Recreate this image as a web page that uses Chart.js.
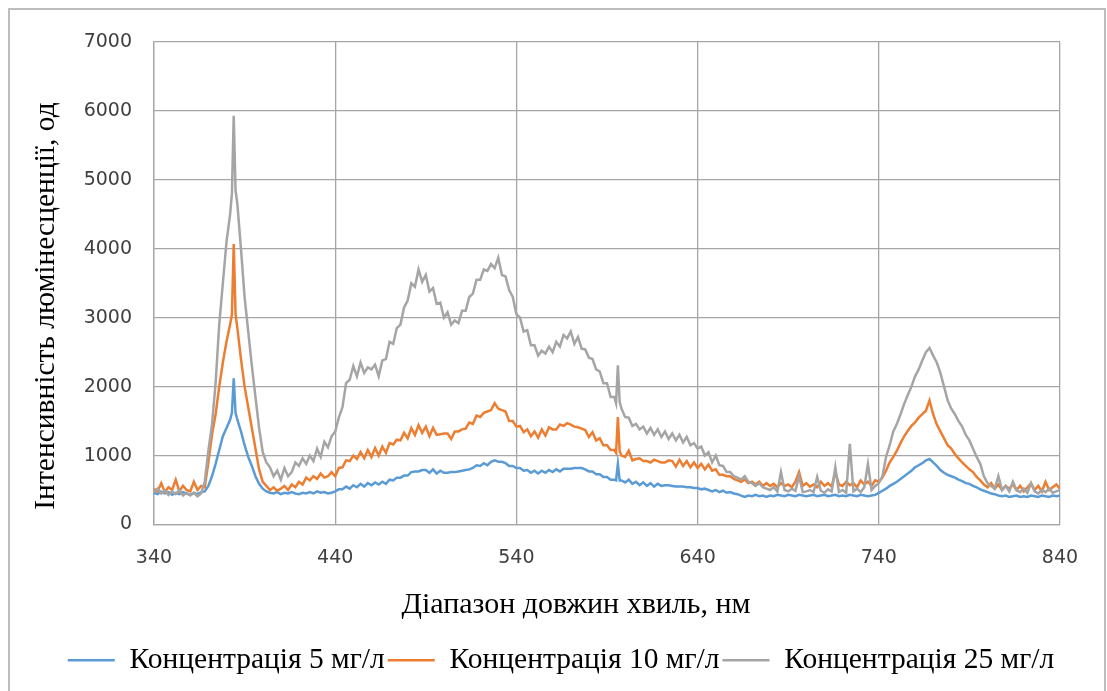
<!DOCTYPE html>
<html lang="uk">
<head>
<meta charset="utf-8">
<title>Спектри люмінесценції</title>
<script src="https://cdn.jsdelivr.net/npm/chart.js@4.4.1/dist/chart.umd.min.js"></script>
<style>
  html, body { margin: 0; padding: 0; background: #ffffff; }
  #wrap { position: relative; width: 1107px; height: 691px; }
  canvas { display: block; }
</style>
</head>
<body>
<div id="wrap"><canvas id="spectra" width="1107" height="691"></canvas></div>
<script>
// Wavelength grid, nm (finer around the narrow lines at 384 and 596 nm)
const wavelengths = [
  340,342,344,346,348,350,352,354,356,358,
  360,362,364,366,368,370,372,374,376,378,
  380,382,383,384,385,386,388,390,392,394,396,398,
  400,402,404,406,408,410,412,414,416,418,
  420,422,424,426,428,430,432,434,436,438,
  440,442,444,446,448,450,452,454,456,458,
  460,462,464,466,468,470,472,474,476,478,
  480,482,484,486,488,490,492,494,496,498,
  500,502,504,506,508,510,512,514,516,518,
  520,522,524,526,528,530,532,534,536,538,
  540,542,544,546,548,550,552,554,556,558,
  560,562,564,566,568,570,572,574,576,578,
  580,582,584,586,588,590,592,594,595,596,597,598,
  600,602,604,606,608,610,612,614,616,618,
  620,622,624,626,628,630,632,634,636,638,
  640,642,644,646,648,650,652,654,656,658,
  660,662,664,666,668,670,672,674,676,678,
  680,682,684,686,688,690,692,694,696,698,
  700,702,704,706,708,710,712,714,716,718,
  720,722,724,726,728,730,732,734,736,738,
  740,742,744,746,748,750,752,754,756,758,
  760,762,764,766,768,770,772,774,776,778,
  780,782,784,786,788,790,792,794,796,798,
  800,802,804,806,808,810,812,814,816,818,
  820,822,824,826,828,830,832,834,836,838,
  840
];

// Luminescence intensity, arb. units — 5 mg/l
const conc5 = [
  460,440,480,450,470,430,460,440,470,450,
  430,460,440,470,480,560,700,880,1080,1280,
  1400,1520,1620,2120,1620,1520,1350,1150,980,850,700,590,
  520,480,460,450,470,440,460,450,470,450,
  440,460,450,470,450,480,460,470,450,460,
  480,510,510,550,520,570,540,590,550,600,
  570,610,580,620,590,650,640,680,680,710,
  710,760,770,770,790,790,750,800,740,780,
  750,750,760,760,770,780,790,800,820,860,
  850,890,860,910,930,910,910,890,850,850,
  820,820,780,790,750,780,740,780,750,790,
  760,800,770,810,810,810,820,820,820,800,
  770,770,730,730,690,690,650,650,640,880,640,640,
  610,650,590,620,570,610,560,600,550,590,
  560,570,570,560,550,550,550,540,540,530,
  530,510,520,500,480,500,470,490,460,470,
  450,440,420,400,420,410,430,410,420,400,
  420,410,430,420,410,430,420,410,430,420,
  410,420,430,410,420,430,410,420,430,410,
  420,410,430,420,410,430,420,410,420,430,
  460,490,520,560,590,620,660,700,740,780,
  830,860,890,930,950,900,850,790,750,720,
  700,680,650,630,600,590,560,540,510,490,
  470,450,440,420,410,420,400,410,420,400,
  410,400,420,410,400,420,410,400,420,410,
  420
];

// Luminescence intensity, arb. units — 10 mg/l
const conc10 = [
  520,480,600,470,540,500,650,480,560,500,
  480,620,500,560,540,900,1300,1600,2000,2350,
  2650,2900,3050,4070,3050,2850,2400,2000,1700,1400,1100,800,
  620,560,500,540,490,520,560,500,580,540,
  620,580,680,640,700,660,740,680,700,760,
  700,820,830,930,920,1000,950,1050,960,1080,
  980,1110,1000,1130,1040,1180,1160,1230,1220,1330,
  1250,1400,1300,1440,1330,1420,1280,1400,1300,1310,
  1320,1320,1240,1350,1350,1380,1390,1480,1460,1580,
  1560,1620,1640,1660,1760,1680,1660,1640,1500,1500,
  1420,1430,1340,1380,1280,1350,1260,1380,1290,1410,
  1380,1380,1450,1430,1470,1450,1420,1410,1390,1370,
  1270,1340,1220,1250,1150,1150,1080,1080,1040,1560,1060,1000,
  980,1070,930,950,960,920,920,900,940,920,
  900,900,930,920,840,940,850,920,830,900,
  820,880,800,870,780,800,720,720,700,700,
  660,640,620,650,600,620,580,620,560,600,
  560,590,540,600,560,580,540,620,760,560,
  600,550,580,540,620,560,600,550,760,580,
  560,620,570,600,540,640,580,620,560,640,
  620,680,780,900,980,1070,1180,1280,1360,1430,
  1480,1550,1600,1650,1800,1600,1450,1350,1250,1150,
  1100,1020,960,900,850,800,760,690,640,580,
  540,600,520,580,500,560,520,580,500,560,
  480,540,600,500,560,480,620,500,540,580,
  520
];

// Luminescence intensity, arb. units — 25 mg/l
const conc25 = [
  470,520,450,490,430,480,440,500,420,460,
  420,460,410,450,620,1070,1450,2050,2900,3500,
  4100,4500,4800,5930,4850,4650,4000,3300,2800,2300,1850,1400,
  1050,900,830,700,780,650,820,700,760,900,
  850,960,880,1000,920,1100,980,1200,1120,1280,
  1350,1550,1700,2050,2100,2300,2150,2350,2200,2280,
  2250,2320,2150,2380,2400,2650,2620,2850,2900,3150,
  3250,3500,3450,3700,3520,3620,3380,3430,3200,3220,
  3000,3080,2900,2960,2920,3100,3100,3300,3350,3550,
  3550,3700,3680,3780,3720,3870,3620,3600,3400,3300,
  3050,3000,2800,2820,2600,2600,2450,2520,2480,2580,
  2500,2650,2580,2750,2700,2800,2620,2720,2550,2540,
  2420,2400,2250,2220,2050,2050,1850,1850,1760,2310,1780,1680,
  1560,1550,1430,1460,1380,1420,1320,1400,1300,1380,
  1270,1350,1240,1320,1220,1300,1190,1270,1150,1180,
  1100,1130,1000,1050,900,1000,860,850,760,760,
  700,680,650,700,620,600,560,600,540,520,
  500,540,480,760,500,480,520,490,700,470,
  480,500,470,690,490,460,510,480,830,470,
  500,460,1170,480,520,470,540,880,500,560,
  600,700,980,1150,1350,1460,1600,1750,1880,2000,
  2150,2250,2380,2500,2560,2450,2350,2200,2000,1800,
  1680,1600,1500,1420,1300,1220,1100,980,880,700,
  600,560,520,700,500,560,480,620,500,470,
  520,460,600,480,450,500,470,520,460,480,
  500
];

const seriesLabels = ['Концентрація 5 мг/л', 'Концентрація 10 мг/л', 'Концентрація 25 мг/л'];
const seriesColors = ['#5B9BD5', '#ED7D31', '#A5A5A5'];
const xTicks = [340, 440, 540, 640, 740, 840];
const yTicks = [0, 1000, 2000, 3000, 4000, 5000, 6000, 7000];
const xTitle = 'Діапазон довжин хвиль, нм';
const yTitle = 'Інтенсивність люмінесценції, од';

const toPoints = values => values.map((v, i) => ({ x: wavelengths[i], y: v }));
const seriesValues = [conc5, conc10, conc25];

const datasets = seriesValues.map((vals, i) => ({
  label: seriesLabels[i],
  data: toPoints(vals),
  borderColor: seriesColors[i],
  backgroundColor: seriesColors[i],
  borderWidth: 2.5,
  pointRadius: 0,
  tension: 0,
  fill: false,
  order: 3 - i
}));

const gridColor = '#a6a6a6';
const tickFont = { family: 'DejaVu Sans', size: 19 };
const serifFamily = '"Liberation Serif", "Times New Roman", serif';

// Outer frame, white background and the two axis titles
const frameAndTitles = {
  id: 'frameAndTitles',
  beforeDraw(chart) {
    const { ctx, width, height } = chart;
    ctx.save();
    ctx.fillStyle = '#ffffff';
    ctx.fillRect(0, 0, width, height);
    ctx.strokeStyle = '#bdbdbd';
    ctx.lineWidth = 2;
    ctx.strokeRect(9, 9, width - 11, height + 20);
    ctx.restore();
  },
  afterDraw(chart) {
    const { ctx, chartArea } = chart;
    ctx.save();
    ctx.fillStyle = '#000000';
    ctx.font = '30px ' + serifFamily;
    ctx.textAlign = 'center';
    ctx.textBaseline = 'middle';
    ctx.fillText(xTitle, chartArea.left + 422, chartArea.bottom + 81);
    ctx.font = '29.5px ' + serifFamily;
    ctx.translate(46, chartArea.top + 264);
    ctx.rotate(-Math.PI / 2);
    ctx.fillText(yTitle, 0, 0);
    ctx.restore();
  }
};

new Chart(document.getElementById('spectra'), {
  type: 'line',
  data: { datasets },
  options: {
    responsive: false,
    animation: false,
    events: [],
    layout: { padding: { left: 15, right: 0, top: 42, bottom: 6 } },
    plugins: {
      tooltip: { enabled: false },
      legend: {
        position: 'bottom',
        labels: {
          usePointStyle: true,
          pointStyle: 'line',
          pointStyleWidth: 47,
          color: '#000000',
          font: { family: serifFamily, size: 29.5 },
          padding: 3,
          sort: (a, b) => a.datasetIndex - b.datasetIndex
        }
      }
    },
    scales: {
      x: {
        type: 'linear',
        min: xTicks[0],
        max: xTicks[xTicks.length - 1],
        afterBuildTicks: s => { s.ticks = xTicks.map(v => ({ value: v })); },
        ticks: { font: tickFont, color: '#404040', padding: 22, maxRotation: 0, callback: v => String(v) },
        grid: { color: gridColor, lineWidth: 1.3, drawTicks: false },
        border: { color: gridColor, width: 1.3 },
        afterFit: s => { s.height = 118; }
      },
      y: {
        type: 'linear',
        min: yTicks[0],
        max: yTicks[yTicks.length - 1],
        afterBuildTicks: s => { s.ticks = yTicks.map(v => ({ value: v })); },
        ticks: { font: tickFont, color: '#404040', padding: 22, callback: v => String(v) },
        grid: { color: gridColor, lineWidth: 1.3, drawTicks: false },
        border: { color: gridColor, width: 1.3 },
        afterFit: s => { s.width = 139; }
      },
      yRight: {
        type: 'linear',
        position: 'right',
        display: true,
        grid: { display: false, drawTicks: false },
        ticks: { display: false },
        border: { display: false },
        afterFit: s => { s.width = 47; }
      }
    }
  },
  plugins: [frameAndTitles]
});
</script>
</body>
</html>
